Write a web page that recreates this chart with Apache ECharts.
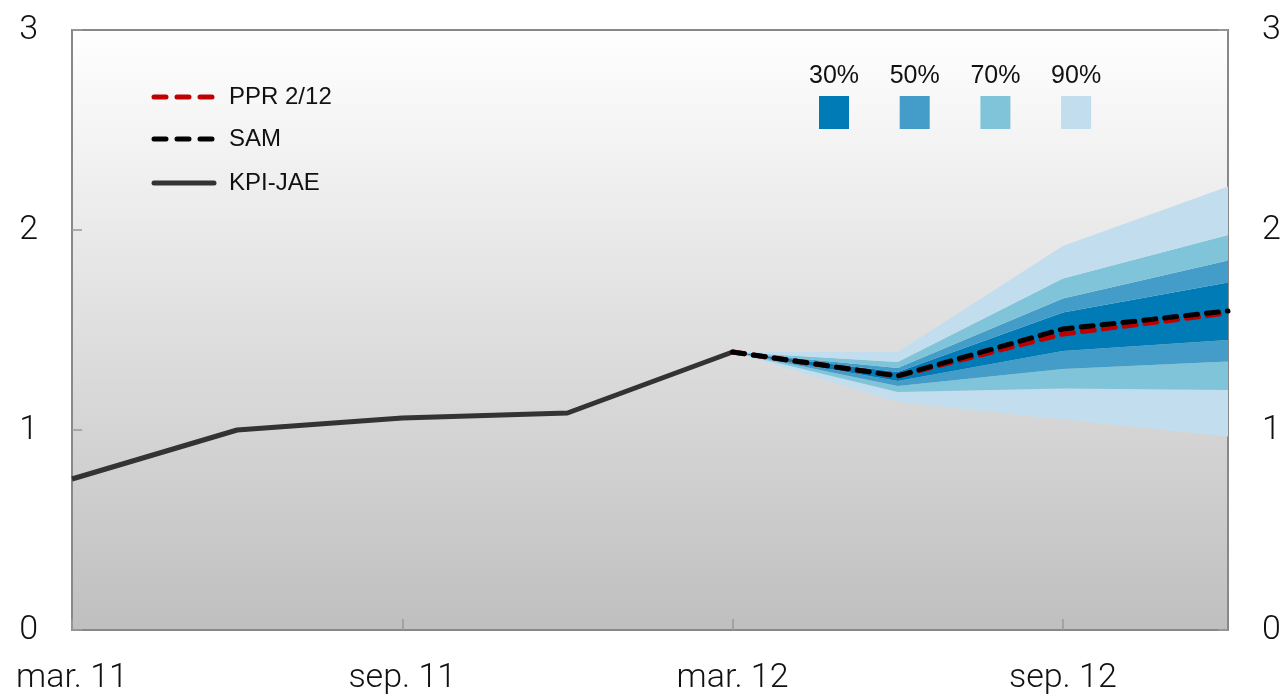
<!DOCTYPE html>
<html>
<head>
<meta charset="utf-8">
<script src="https://cdn.jsdelivr.net/npm/echarts@6/dist/echarts.min.js"></script>
<style>html,body{margin:0;padding:0;background:#fff}#c{width:1285px;height:699px}</style>
</head>
<body>
<div id="c"></div>
<script>
const categories = ['mar. 11','jun. 11','sep. 11','des. 11','mar. 12','jun. 12','sep. 12','des. 12'];
const yTicks = [0, 1, 2, 3];
const kpiJae = [0.755, 1.0, 1.06, 1.085, 1.39, null, null, null];
const sam    = [null, null, null, null, 1.39, 1.27, 1.505, 1.595];
const ppr    = [null, null, null, null, 1.39, 1.27, 1.48, 1.585];
const lo90 = [null, null, null, null, 1.39, 1.14, 1.053, 0.967];
const lo70 = [null, null, null, null, 1.39, 1.19, 1.208, 1.20];
const lo50 = [null, null, null, null, 1.39, 1.22, 1.305, 1.342];
const lo30 = [null, null, null, null, 1.39, 1.245, 1.395, 1.45];
const hi30 = [null, null, null, null, 1.39, 1.29, 1.588, 1.737];
const hi50 = [null, null, null, null, 1.39, 1.31, 1.658, 1.847];
const hi70 = [null, null, null, null, 1.39, 1.34, 1.758, 1.975];
const hi90 = [null, null, null, null, 1.39, 1.39, 1.92, 2.217];
const bandLabels = ['30%', '50%', '70%', '90%'];
const bandColors = ['#007bb5', '#439dc8', '#80c4da', '#c2deee'];
const lineNames = ['PPR 2/12', 'SAM', 'KPI-JAE'];
const lineColors = ['#c00000', '#000000', '#333333'];

const diff = (a, b) => a.map((v, i) => (v == null || b[i] == null) ? '-' : +(v - b[i]).toFixed(4));
const layers = [
  {d: lo90.map(v => v == null ? '-' : v), c: null},
  {d: diff(lo70, lo90), c: bandColors[3]},
  {d: diff(lo50, lo70), c: bandColors[2]},
  {d: diff(lo30, lo50), c: bandColors[1]},
  {d: diff(hi30, lo30), c: bandColors[0]},
  {d: diff(hi50, hi30), c: bandColors[1]},
  {d: diff(hi70, hi50), c: bandColors[2]},
  {d: diff(hi90, hi70), c: bandColors[3]}
];
const bandSeries = layers.map((l, i) => ({
  type: 'line', name: 'band' + i, stack: 'fan', data: l.d,
  symbol: 'none', silent: true, lineStyle: {width: 0, opacity: 0},
  areaStyle: l.c ? {color: l.c, opacity: 1} : undefined,
  z: 1
}));

const chart = echarts.init(document.getElementById('c'));
const axisFont = {fontFamily: 'Roboto', fontWeight: 300, fontSize: 34, color: '#111'};
const yAxisBase = {
  type: 'value', min: 0, max: 3, interval: 1,
  axisLine: {show: true, lineStyle: {color: '#888', width: 2}},
  axisTick: {show: true, inside: true, length: 10, lineStyle: {color: '#999', width: 1.5}},
  splitLine: {show: false},
  axisLabel: Object.assign({margin: 34, formatter: v => yTicks.includes(v) ? String(v) : ''}, axisFont)
};
const graphics = [];
bandLabels.forEach((t, i) => {
  const cx = 834 + i * 80.7;
  graphics.push({type: 'text', x: cx, y: 76, style: {text: t, font: '25px "Liberation Sans"', fill: '#111', align: 'center', verticalAlign: 'middle'}, z: 100});
  graphics.push({type: 'rect', shape: {x: cx - 15, y: 96, width: 30, height: 33}, style: {fill: bandColors[i]}, z: 100});
});
lineNames.forEach((n, i) => {
  const y = [97, 139, 183][i];
  graphics.push({type: 'line', shape: {x1: 154, y1: y, x2: 214, y2: y},
    style: {stroke: lineColors[i], lineWidth: 5, lineCap: 'round', lineDash: i < 2 ? [12, 11] : null}, z: 100});
  graphics.push({type: 'text', x: 229, y: y, style: {text: n, font: '24px "Liberation Sans"', fill: '#111', verticalAlign: 'middle'}, z: 100});
});

chart.setOption({
  animation: false,
  grid: {
    left: 72, right: 57, top: 30, bottom: 69, show: true,
    borderColor: '#888', borderWidth: 2,
    backgroundColor: new echarts.graphic.LinearGradient(0, 0, 0, 1, [
      {offset: 0, color: '#ffffff'}, {offset: 1, color: '#bfbfbf'}
    ])
  },
  graphic: graphics,
  xAxis: {
    type: 'category', data: categories, boundaryGap: false,
    axisLine: {show: true, lineStyle: {color: '#888', width: 2}},
    axisTick: {show: true, inside: true, length: 11, interval: 1, lineStyle: {color: '#999', width: 1.5}},
    axisLabel: Object.assign({interval: 1, margin: 31}, axisFont),
    splitLine: {show: false}
  },
  yAxis: [
    Object.assign({position: 'left'}, yAxisBase),
    Object.assign({position: 'right'}, yAxisBase)
  ],
  series: bandSeries.concat([
    {type: 'line', name: 'KPI-JAE', data: kpiJae, symbol: 'none', color: '#333',
     lineStyle: {color: '#333', width: 5}, z: 5},
    {type: 'line', name: 'PPR 2/12', data: ppr, symbol: 'none', color: '#c00000',
     lineStyle: {color: '#c00000', width: 5, type: [12, 9], cap: 'round'}, z: 6},
    {type: 'line', name: 'SAM', data: sam, symbol: 'none', color: '#000',
     lineStyle: {color: '#000', width: 5, type: [12, 9], cap: 'round'}, z: 7}
  ])
});
</script>
</body>
</html>
